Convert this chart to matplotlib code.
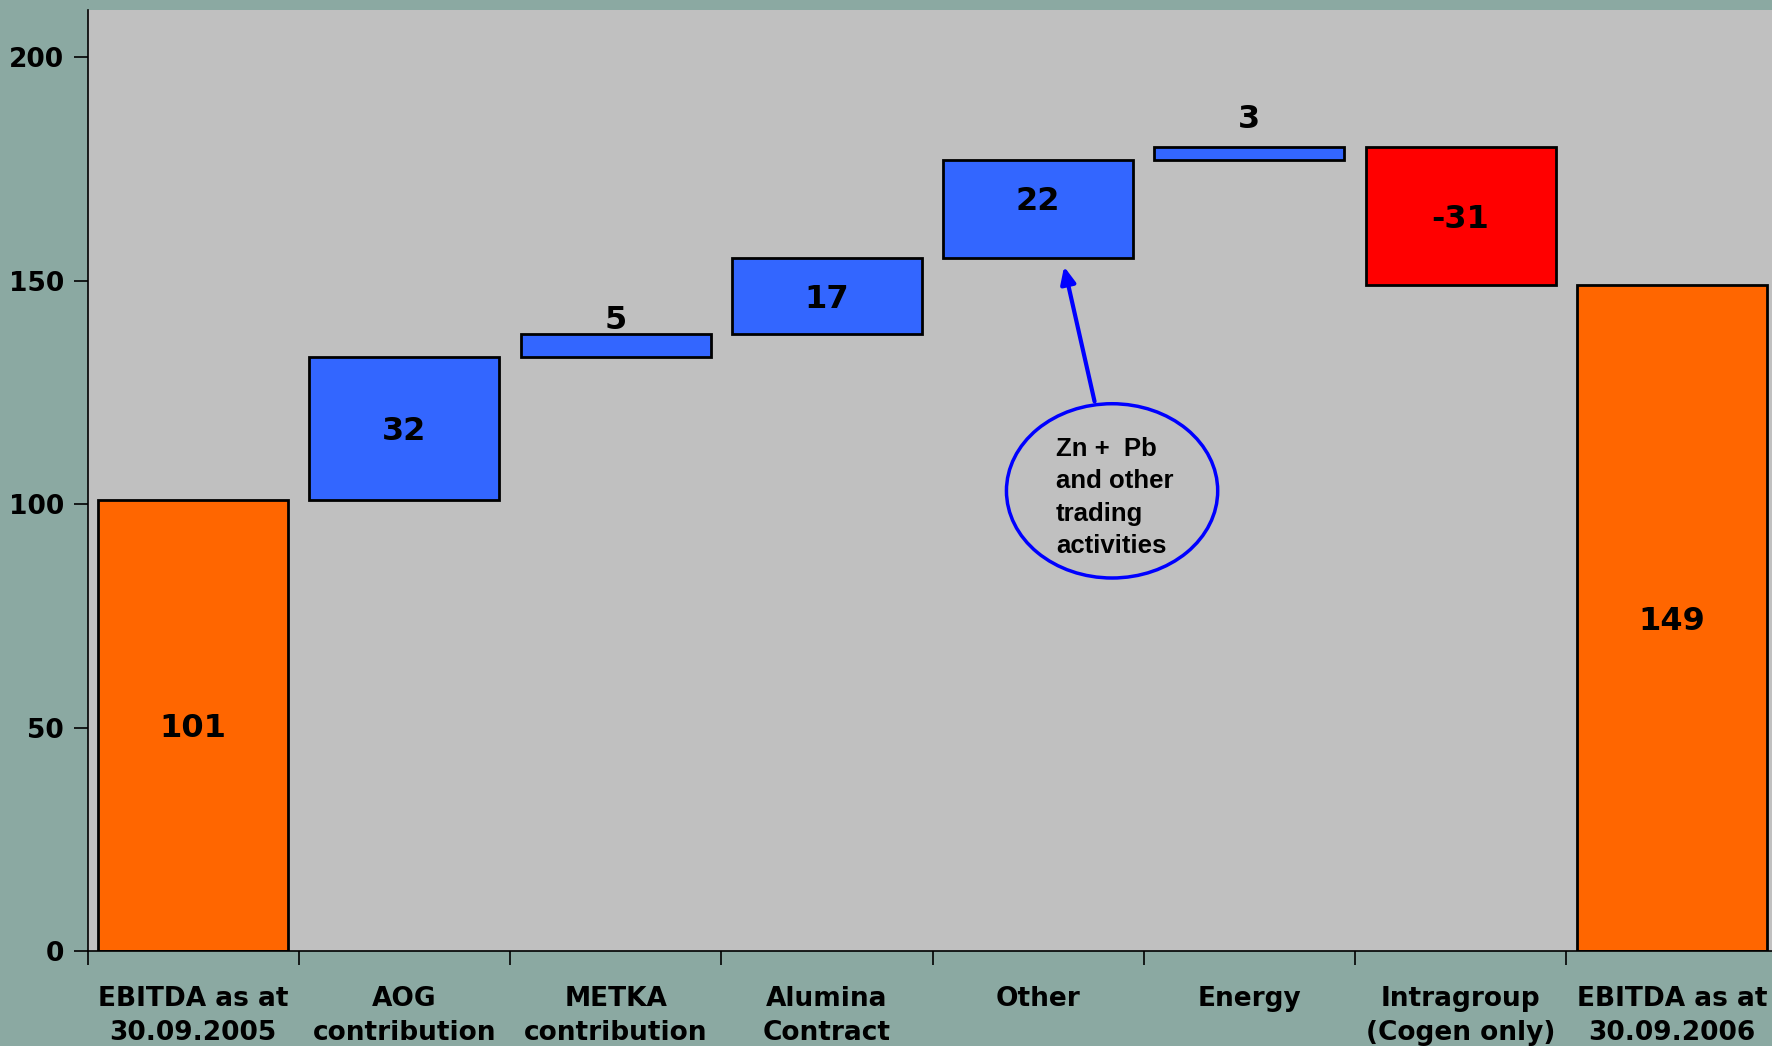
import numpy as np
import matplotlib.pyplot as plt
from matplotlib.patches import Ellipse

categories = ['EBITDA as at\n30.09.2005', 'AOG\ncontribution', 'METKA\ncontribution',
              'Alumina\nContract', 'Other', 'Energy', 'Intragroup\n(Cogen only)',
              'EBITDA as at\n30.09.2006']
changes = [101, 32, 5, 17, 22, 3, -31, 149]
is_total = [True, False, False, False, False, False, False, True]
yticks = [0, 50, 100, 150, 200]
note = 'Zn +  Pb\nand other\ntrading\nactivities'

# waterfall geometry: totals start at 0, steps start at the running sum
bottoms, heights, colors = [], [], []
running = 0
for v, tot in zip(changes, is_total):
    if tot:
        bottoms.append(0)
        heights.append(v)
        running = v
        colors.append('#FF6600')
    else:
        start = running
        running += v
        bottoms.append(min(start, running))
        heights.append(abs(v))
        colors.append('#3366FF' if v > 0 else '#FF0000')

plt.rcParams['font.family'] = 'DejaVu Sans'
plt.rcParams['font.weight'] = 'bold'

fig = plt.figure(figsize=(17.72, 10.46), dpi=100, facecolor='#8BA9A2')
ax = fig.add_axes([0.0494, 0.0907, 0.9537, 0.8997])
ax.set_facecolor('#C0C0C0')

x = np.arange(len(categories))
ax.bar(x, heights, bottom=bottoms, width=0.9, color=colors,
       edgecolor='black', linewidth=2)

# value labels: inside the bar, or just above when the step is thin
lifts = {2: 4.0, 5: 7.0}
for i, (b, h, v) in enumerate(zip(bottoms, heights, changes)):
    if i in lifts:
        y = b + h + lifts[i]
    else:
        y = b + h / 2
    if i == 4:
        y += 2.5
    ax.text(x[i], y, str(v), ha='center', va='center_baseline', fontsize=23,
            fontweight='bold', color='black')

ax.set_xlim(-0.5, len(categories) - 0.5)
ax.set_ylim(0, 210.6)

ax.set_yticks(yticks)
ax.tick_params(axis='y', direction='out', length=10, width=1.2, pad=7,
               labelsize=19)
ax.set_xticks(np.arange(len(categories) + 1) - 0.5)
ax.set_xticklabels([])
ax.tick_params(axis='x', which='major', direction='out', length=10, width=1.2)
ax.set_xticks(x, minor=True)
ax.set_xticklabels(categories, minor=True, fontsize=19, fontweight='bold',
                   linespacing=1.4)
ax.tick_params(axis='x', which='minor', length=0, pad=25)

for s in ['top', 'right']:
    ax.spines[s].set_visible(False)
ax.spines['left'].set_linewidth(1.2)
ax.spines['bottom'].set_linewidth(1.2)

# callout for the "Other" step
ax.add_patch(Ellipse((4.35, 103), 1.0, 39, facecolor='none',
                     edgecolor='#0000FF', linewidth=2.5, zorder=4))
ax.text(4.085, 101.5, note, ha='left', va='center', fontsize=18.5,
        fontweight='bold', family='Liberation Sans', linespacing=1.45, zorder=5)
ax.annotate('', xy=(4.12, 153.8), xytext=(4.27, 122.4),
            arrowprops=dict(arrowstyle='-|>,head_length=1.0,head_width=0.45',
                            color='#0000FF', lw=3), zorder=5)

fig.savefig('out.png', dpi=100, facecolor=fig.get_facecolor())
